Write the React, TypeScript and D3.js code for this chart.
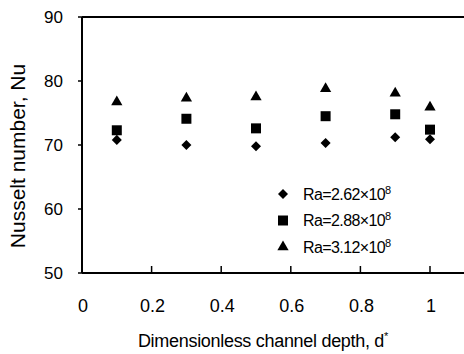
import React from "react";
import * as d3 from "d3";

// Dimensionless channel depth (d*) for each measurement
const depths = [0.1, 0.3, 0.5, 0.7, 0.9, 1.0];
// Nusselt number per Rayleigh number series
const nuRa262 = [70.8, 70.0, 69.8, 70.3, 71.2, 70.9];
const nuRa288 = [72.3, 74.1, 72.6, 74.5, 74.8, 72.4];
const nuRa312 = [76.7, 77.3, 77.5, 78.8, 78.1, 75.9];

const seriesLabels = ["Ra=2.62\u00d710", "Ra=2.88\u00d710", "Ra=3.12\u00d710"];
const seriesExponent = "8";

const xTicks = [0, 0.2, 0.4, 0.6, 0.8, 1];
const yTicks = [50, 60, 70, 80, 90];

const W = 464;
const H = 354;
const left = 82;
const top = 17;
const bottom = 273;

const FONT = "'Liberation Sans', Arial, Helvetica, sans-serif";

export default function App() {
  const x = d3.scaleLinear().domain([0, 1.1]).range([left, left + 348 * 1.1]);
  const y = d3.scaleLinear().domain([50, 90]).range([bottom, top]);

  const diamond = d3.symbol().type(d3.symbolDiamond2).size(64)() as string;
  const square = d3.symbol().type(d3.symbolSquare).size(100)() as string;
  const triangle = d3.symbol().type(d3.symbolTriangle).size(55)() as string;

  const series = [
    { values: nuRa262, path: diamond },
    { values: nuRa288, path: square },
    { values: nuRa312, path: triangle },
  ];

  const xFmt = (v: number) => (v === 0 || v === 1 ? String(v) : v.toFixed(1));

  return (
    <svg
      width={W}
      height={H}
      style={{ position: "absolute", left: 0, top: 0, background: "#fff" }}
    >
      <rect width={W} height={H} fill="#fff" />
      {/* frame lines */}
      <line x1={left} x2={W} y1={top} y2={top} stroke="#000" strokeWidth={2} />
      <line x1={left} x2={W} y1={bottom} y2={bottom} stroke="#000" strokeWidth={2} />
      <line x1={left} x2={left} y1={top} y2={bottom} stroke="#000" strokeWidth={2} />

      {/* y axis ticks and labels */}
      {yTicks.map((t) => (
        <g key={`y${t}`}>
          <line x1={left - 4} x2={left} y1={y(t)} y2={y(t)} stroke="#000" strokeWidth={1.5} />
          <text
            x={63}
            y={y(t)}
            dy="0.36em"
            textAnchor="end"
            fontFamily={FONT}
            fontSize={17}
            fill="#000"
          >
            {t}
          </text>
        </g>
      ))}

      {/* x axis ticks and labels */}
      {xTicks.map((t) => (
        <g key={`x${t}`}>
          {t > 0 && (
            <line x1={x(t)} x2={x(t)} y1={bottom} y2={bottom - 7} stroke="#000" strokeWidth={1.5} />
          )}
          <text
            x={x(t) + 1}
            y={312}
            textAnchor="middle"
            fontFamily={FONT}
            fontSize={18}
            fill="#000"
          >
            {xFmt(t)}
          </text>
        </g>
      ))}

      {/* axis titles */}
      <text
        x={263}
        y={347}
        textAnchor="middle"
        fontFamily={FONT}
        fontSize={18}
        letterSpacing={-0.3}
        fill="#000"
      >
        Dimensionless channel depth, d
        <tspan dy={-7} fontSize={11}>*</tspan>
      </text>
      <text
        transform={`translate(25,156) rotate(-90)`}
        textAnchor="middle"
        fontFamily={FONT}
        fontSize={21}
        fill="#000"
      >
        Nusselt number, Nu
      </text>

      {/* data markers */}
      {series.map((s, si) =>
        s.values.map((v, i) => (
          <path
            key={`p${si}-${i}`}
            d={s.path}
            transform={`translate(${x(depths[i])},${y(v)})`}
            fill="#000"
          />
        ))
      )}

      {/* legend */}
      {series.map((s, si) => {
        const ly = 194 + si * 26.5;
        return (
          <g key={`l${si}`}>
            <path d={s.path} transform={`translate(283,${ly})`} fill="#000" />
            <text
              x={303}
              y={ly}
              dy="0.36em"
              fontFamily={FONT}
              fontSize={16}
              letterSpacing={-0.6}
              fill="#000"
            >
              {seriesLabels[si]}
              <tspan dy={-6} fontSize={11}>
                {seriesExponent}
              </tspan>
            </text>
          </g>
        );
      })}
    </svg>
  );
}
